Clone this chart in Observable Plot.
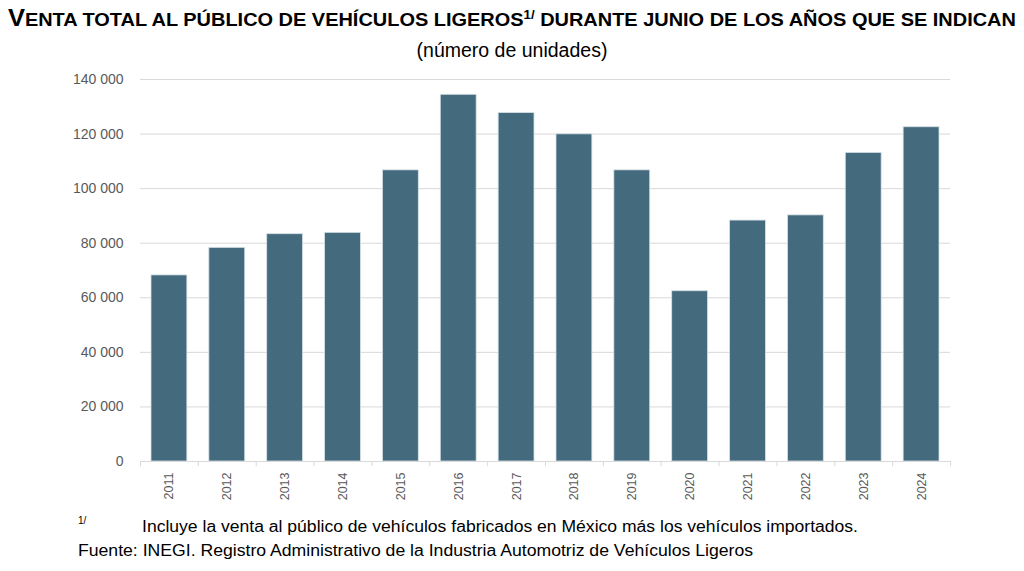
<!DOCTYPE html>
<html><head><meta charset="utf-8">
<script src="https://cdn.jsdelivr.net/npm/d3@7"></script>
<script src="https://cdn.jsdelivr.net/npm/@observablehq/plot@0.6"></script>
<style>
body{margin:0;background:#fff;width:1024px;height:571px;position:relative;overflow:hidden;font-family:"Liberation Sans",Arial,sans-serif;color:#000}
.line{position:absolute;left:0;width:1024px;text-align:center;white-space:nowrap}
.fit{display:inline-block;transform-origin:center center}
#title{top:5px;font-weight:bold;font-size:18px}
#title .big{font-size:23px}
#title sup{font-size:12px;vertical-align:7px;line-height:0}
#subtitle{top:39px;font-size:19.5px}
#chart{position:absolute;left:0;top:70px}
.foot{position:absolute;white-space:nowrap;font-size:16px}
#fn1{left:78px;top:515px;font-size:10px}
#fn1t{left:142px;top:518px}
#src{left:78px;top:542px}
</style></head>
<body>
<div class="line" id="title"><span class="fit" id="titleText"><span class="big">V</span>ENTA TOTAL AL PÚBLICO DE VEHÍCULOS LIGEROS<sup>1/</sup> DURANTE JUNIO DE LOS AÑOS QUE SE INDICAN</span></div>
<div class="line" id="subtitle">(número de unidades)</div>
<div id="chart"></div>
<div class="foot" id="fn1">1/</div>
<div class="foot" id="fn1t"><span class="fit" id="fnText" style="transform-origin:left center">Incluye la venta al público de vehículos fabricados en México más los vehículos importados.</span></div>
<div class="foot" id="src"><span class="fit" id="srcText" style="transform-origin:left center">Fuente: INEGI. Registro Administrativo de la Industria Automotriz de Vehículos Ligeros</span></div>
<script>
const years = ["2011","2012","2013","2014","2015","2016","2017","2018","2019","2020","2021","2022","2023","2024"];
const sales = [68200, 78300, 83300, 83800, 106700, 134400, 127700, 119900, 106700, 62400, 88300, 90200, 113100, 122500];
const yTicks = [0, 20000, 40000, 60000, 80000, 100000, 120000, 140000];

const data = years.map((y, i) => ({year: y, value: sales[i]}));
const fmt = v => d3.format(",")(v).replace(/,/g, " ");

const W = 1024, H = 440, mL = 140, mR = 74;
const step = (W - mL - mR) / years.length;

const chart = Plot.plot({
  width: W, height: H,
  marginTop: 9, marginBottom: 49, marginLeft: mL, marginRight: mR,
  style: {fontFamily: "'Liberation Sans', Arial, sans-serif", background: "#fff"},
  x: {domain: years, paddingInner: 0.38, paddingOuter: 0.19, align: 0.5, round: false, label: null, tickSize: 0, tickRotate: -90},
  y: {domain: [0, 140000], ticks: yTicks, tickFormat: fmt, label: null, tickSize: 0},
  marks: [
    Plot.gridY(yTicks.filter(d => d > 0), {stroke: "#d9d9d9", strokeOpacity: 1, strokeWidth: 1}),
    Plot.barY(data, {x: "year", y: "value", fill: "#446a7d", stroke: "#d6e1e6", strokeWidth: 0.8}),
    Plot.ruleY([0], {stroke: "#d9d9d9", strokeWidth: 1}),
    Plot.ruleX(years, {x: d => d, dx: -step / 2, y1: 0, y2: -1900, stroke: "#d9d9d9"}),
    Plot.ruleX(years.slice(-1), {x: d => d, dx: step / 2, y1: 0, y2: -1900, stroke: "#d9d9d9"}),
    Plot.axisY({ticks: yTicks, tickFormat: fmt, tickSize: 0, tickPadding: 17, fill: "#595959", fontSize: 14, label: null}),
    Plot.axisX({tickSize: 0, tickRotate: -90, tickPadding: 11, fill: "#595959", fontSize: 12.5, label: null})
  ]
});
document.getElementById("chart").appendChild(chart);

function fitTo(id, target) {
  const el = document.getElementById(id);
  const w = el.getBoundingClientRect().width;
  el.style.transform = `scaleX(${target / w})`;
}
fitTo("titleText", 1008);
fitTo("fnText", 716);
fitTo("srcText", 675);
</script>
</body></html>
